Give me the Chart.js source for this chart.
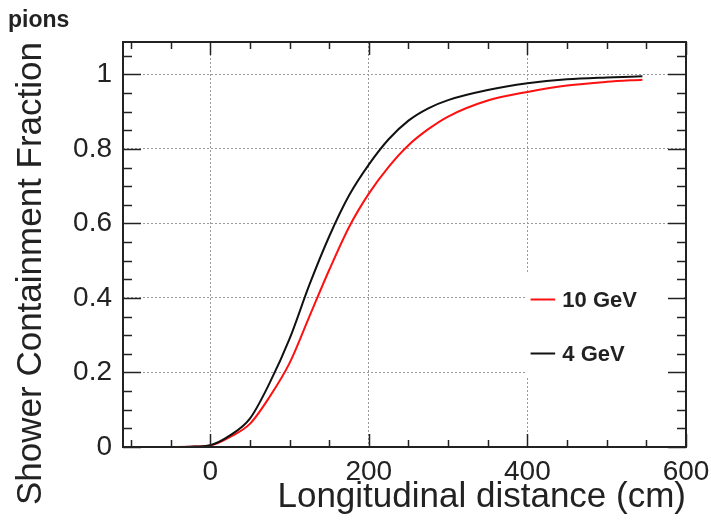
<!DOCTYPE html>
<html lang="en">
<head>
    <meta charset="UTF-8">
    <title>Shower containment - pions</title>
    <script src="https://cdn.jsdelivr.net/npm/chart.js"></script>
    <style>
        body {
            margin: 0;
            background: #fff;
        }
        #wrap {
            width: 711px;
            height: 527px;
        }
    </style>
</head>
<body>
    <div id="wrap"><canvas id="myChart" width="711" height="527"></canvas></div>

    <script>
        // longitudinal distance (cm)
        const dist = [-50, -25, 0, 25, 50, 75, 100, 125, 150, 175, 200, 225, 250, 275, 300, 350, 400, 450, 500, 545];
        // containment fraction, 10 GeV pions
        const frac10 = [0, 0.001, 0.004, 0.027, 0.062, 0.135, 0.225, 0.35, 0.475, 0.59, 0.68, 0.752, 0.81, 0.853, 0.887, 0.93, 0.953, 0.97, 0.98, 0.986];
        // containment fraction, 4 GeV pions
        const frac4 = [0, 0.001, 0.005, 0.031, 0.076, 0.172, 0.29, 0.435, 0.565, 0.675, 0.758, 0.826, 0.876, 0.909, 0.931, 0.958, 0.976, 0.987, 0.992, 0.995];

        const xTicks = [0, 200, 400, 600];
        const yTicks = [0, 0.2, 0.4, 0.6, 0.8, 1];
        const labels = ['10 GeV', '4 GeV'];

        const FONT = "'Liberation Sans', Arial, sans-serif";
        const INK = '#222';

        // рамка, мелкие засечки внутрь, легенда и подпись "pions"
        const framePlugin = {
            id: 'frame',
            afterDatasetsDraw(chart) {
                const { ctx, chartArea: a, scales: { x, y } } = chart;
                ctx.save();

                // белая подложка легенды поверх сетки
                const bx = x.getPixelForValue(398);
                const by = y.getPixelForValue(0.47);
                const bb = y.getPixelForValue(0.185);
                ctx.fillStyle = '#fff';
                ctx.fillRect(bx, by, a.right - bx - 2, bb - by);

                const legendY = [0.396, 0.251];
                chart.data.datasets.forEach((ds, i) => {
                    const ly = Math.round(y.getPixelForValue(legendY[i])) + 0.5;
                    ctx.strokeStyle = ds.borderColor;
                    ctx.lineWidth = 2;
                    ctx.beginPath();
                    ctx.moveTo(x.getPixelForValue(404), ly);
                    ctx.lineTo(x.getPixelForValue(435), ly);
                    ctx.stroke();
                    ctx.fillStyle = INK;
                    ctx.font = 'bold 22px ' + FONT;
                    ctx.textBaseline = 'middle';
                    ctx.textAlign = 'left';
                    ctx.fillText(ds.label, x.getPixelForValue(444), ly + 1);
                });

                // засечки
                ctx.strokeStyle = INK;
                ctx.lineWidth = 1.5;
                const seg = (x1, y1, x2, y2) => {
                    ctx.beginPath();
                    ctx.moveTo(x1, y1);
                    ctx.lineTo(x2, y2);
                    ctx.stroke();
                };
                for (let v = -100; v <= 600; v += 50) {
                    const px = Math.round(x.getPixelForValue(v)) + 0.5;
                    const len = v % 200 === 0 ? 13 : 7;
                    seg(px, a.bottom, px, a.bottom - len);
                    seg(px, a.top, px, a.top + len);
                }
                for (let k = 0; k <= 21; k++) {
                    const py = Math.round(y.getPixelForValue(k * 0.05)) + 0.5;
                    const len = k % 4 === 0 ? 18 : 9;
                    seg(a.left, py, a.left + len, py);
                    seg(a.right, py, a.right - len, py);
                }

                // рамка
                ctx.lineWidth = 2;
                ctx.strokeRect(a.left, a.top, a.right - a.left, a.bottom - a.top);

                ctx.fillStyle = INK;
                ctx.font = 'bold 23px ' + FONT;
                ctx.textBaseline = 'alphabetic';
                ctx.textAlign = 'left';
                ctx.fillText('pions', 8, 27);
                ctx.restore();
            }
        };

        const ctx = document.getElementById('myChart').getContext('2d');
        const chart = new Chart(ctx, {
            type: 'line',
            data: {
                datasets: [
                    {
                        label: labels[0],
                        data: dist.map((d, i) => ({ x: d, y: frac10[i] })),
                        borderColor: '#ff1010',
                        borderWidth: 2,
                        order: 1
                    },
                    {
                        label: labels[1],
                        data: dist.map((d, i) => ({ x: d, y: frac4[i] })),
                        borderColor: '#111111',
                        borderWidth: 2,
                        order: 0
                    }
                ]
            },
            options: {
                responsive: false,
                animation: false,
                events: [],
                layout: {
                    padding: { top: 42, right: 25, left: 0, bottom: 0 }
                },
                elements: {
                    point: { radius: 0 },
                    line: { cubicInterpolationMode: 'monotone' }
                },
                plugins: {
                    legend: { display: false },
                    tooltip: { enabled: false }
                },
                scales: {
                    x: {
                        type: 'linear',
                        min: -110,
                        max: 600,
                        afterBuildTicks: s => { s.ticks = xTicks.map(v => ({ value: v })); },
                        afterFit: s => {
                            s.height = 80;
                            s.paddingLeft = 0;
                            s.paddingRight = 0;
                        },
                        grid: { color: '#9a9a9a', lineWidth: 1, drawTicks: false },
                        border: { display: false, dash: [2, 2] },
                        ticks: {
                            autoSkip: false,
                            maxRotation: 0,
                            padding: 8,
                            color: INK,
                            font: { family: FONT, size: 28 }
                        },
                        title: {
                            display: true,
                            text: 'Longitudinal distance (cm)',
                            align: 'end',
                            color: INK,
                            padding: { top: 0, bottom: 9 },
                            font: { family: FONT, size: 35 }
                        }
                    },
                    y: {
                        min: 0,
                        max: 1.087,
                        afterBuildTicks: s => { s.ticks = yTicks.map(v => ({ value: v })); },
                        afterFit: s => {
                            s.width = 123;
                            s.paddingTop = 0;
                            s.paddingBottom = 0;
                        },
                        grid: { color: '#9a9a9a', lineWidth: 1, drawTicks: false },
                        border: { display: false, dash: [2, 2] },
                        ticks: {
                            autoSkip: false,
                            padding: 11,
                            color: INK,
                            font: { family: FONT, size: 28 },
                            callback: v => String(+v.toFixed(1))
                        },
                        title: {
                            display: true,
                            text: 'Shower Containment Fraction',
                            align: 'end',
                            color: INK,
                            padding: { top: 10, bottom: 0 },
                            font: { family: FONT, size: 35 }
                        }
                    }
                }
            },
            plugins: [framePlugin]
        });
    </script>
</body>
</html>
